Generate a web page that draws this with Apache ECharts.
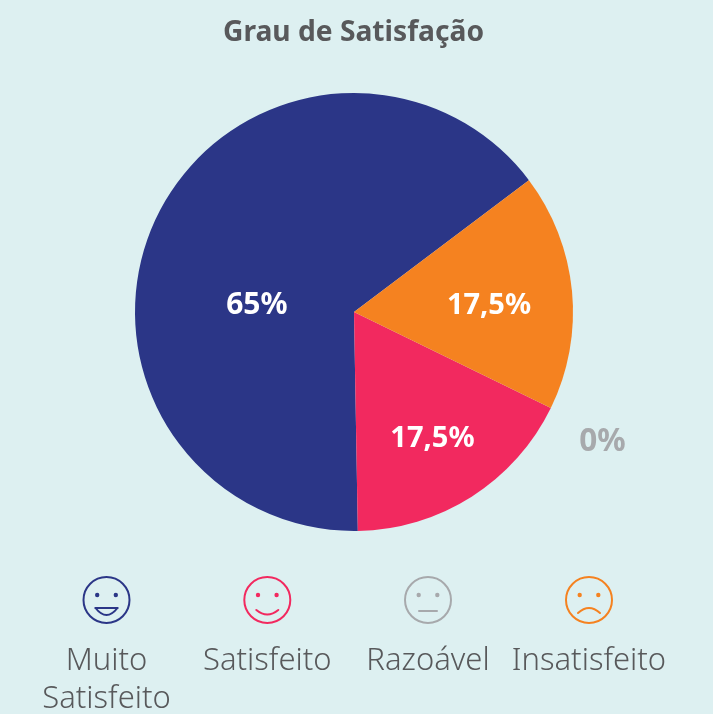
<!DOCTYPE html>
<html><head><meta charset="utf-8">
<style>html,body{margin:0;padding:0;background:#ddf0f1}#c{width:713px;height:714px}</style>
<script src="https://cdn.jsdelivr.net/npm/echarts@6/dist/echarts.min.js"></script>
</head><body><div id="c"></div>
<script>
const title = 'Grau de Satisfação';
const categories = ['Muito\nSatisfeito', 'Satisfeito', 'Razoável', 'Insatisfeito'];
const values = [65, 17.5, 0, 17.5];
const valueLabels = ['65%', '17,5%', '0%', '17,5%'];
const colors = ['#2b3687', '#f2295f', '#a7a9ac', '#f58220'];
const labelColors = ['#ffffff', '#ffffff', '#a7a9ac', '#ffffff'];
const labelOffsets = [[4, 43], [18, 32], [-20, 27], [23, 5]];
const labelSizes = [30, 29, 31.5, 29];
const textColor = '#58595b';
const legendX = [106.5, 267.3, 428, 589];
const legendY = 600;
const R = 23;

function face(i) {
  const c = colors[i], x = legendX[i], y = legendY;
  const line = { stroke: c, lineWidth: 2, fill: null, lineCap: 'round' };
  const curve = (x1, y1, cx, cy, x2, y2) => ({ type: 'bezierCurve', shape: { x1, y1, cpx1: cx, cpy1: cy, x2, y2 }, style: line });
  const els = [
    { type: 'circle', shape: { cx: x, cy: y, r: R }, style: line },
    { type: 'circle', shape: { cx: x - 9.3, cy: y - 5, r: 2.2 }, style: { fill: c } },
    { type: 'circle', shape: { cx: x + 9.3, cy: y - 5, r: 2.2 }, style: { fill: c } }
  ];
  if (i === 0) {
    els.push({ type: 'line', shape: { x1: x - 11, y1: y + 8, x2: x + 11, y2: y + 8 }, style: line });
    els.push(curve(x - 11, y + 8, x, y + 22, x + 11, y + 8));
  }
  if (i === 1) els.push(curve(x - 11, y + 10, x, y + 19, x + 11, y + 10));
  if (i === 2) els.push({ type: 'line', shape: { x1: x - 9, y1: y + 11, x2: x + 9, y2: y + 11 }, style: line });
  if (i === 3) els.push(curve(x - 11, y + 13, x, y + 3, x + 11, y + 13));
  return els;
}

const graphics = [];
categories.forEach((name, i) => {
  graphics.push(...face(i));
  graphics.push({
    type: 'text', x: legendX[i], y: 642,
    style: { text: name, fill: textColor, font: '300 31px "Noto Sans"', align: 'center', verticalAlign: 'top', lineHeight: 38 }
  });
});

const chart = echarts.init(document.getElementById('c'));
chart.setOption({
  backgroundColor: '#ddf0f1',
  animation: false,
  title: { text: title, left: 218, top: 14, textStyle: { fontFamily: 'Noto Sans', fontWeight: 'bold', fontSize: 28.2, color: textColor } },
  series: [{
    type: 'pie',
    center: [354, 312],
    radius: [0, 219],
    startAngle: 37,
    clockwise: false,
    stillShowZeroSum: true,
    avoidLabelOverlap: false,
    data: categories.map((name, i) => ({
      name,
      value: values[i],
      itemStyle: { color: colors[i] },
      label: {
        show: true,
        position: i === 2 ? 'outside' : 'inside',
        formatter: valueLabels[i],
        color: labelColors[i],
        fontFamily: 'Noto Sans', fontWeight: 'bold', fontSize: labelSizes[i],
        offset: labelOffsets[i]
      },
      labelLine: { show: false }
    }))
  }],
  graphic: graphics
});
</script></body></html>
